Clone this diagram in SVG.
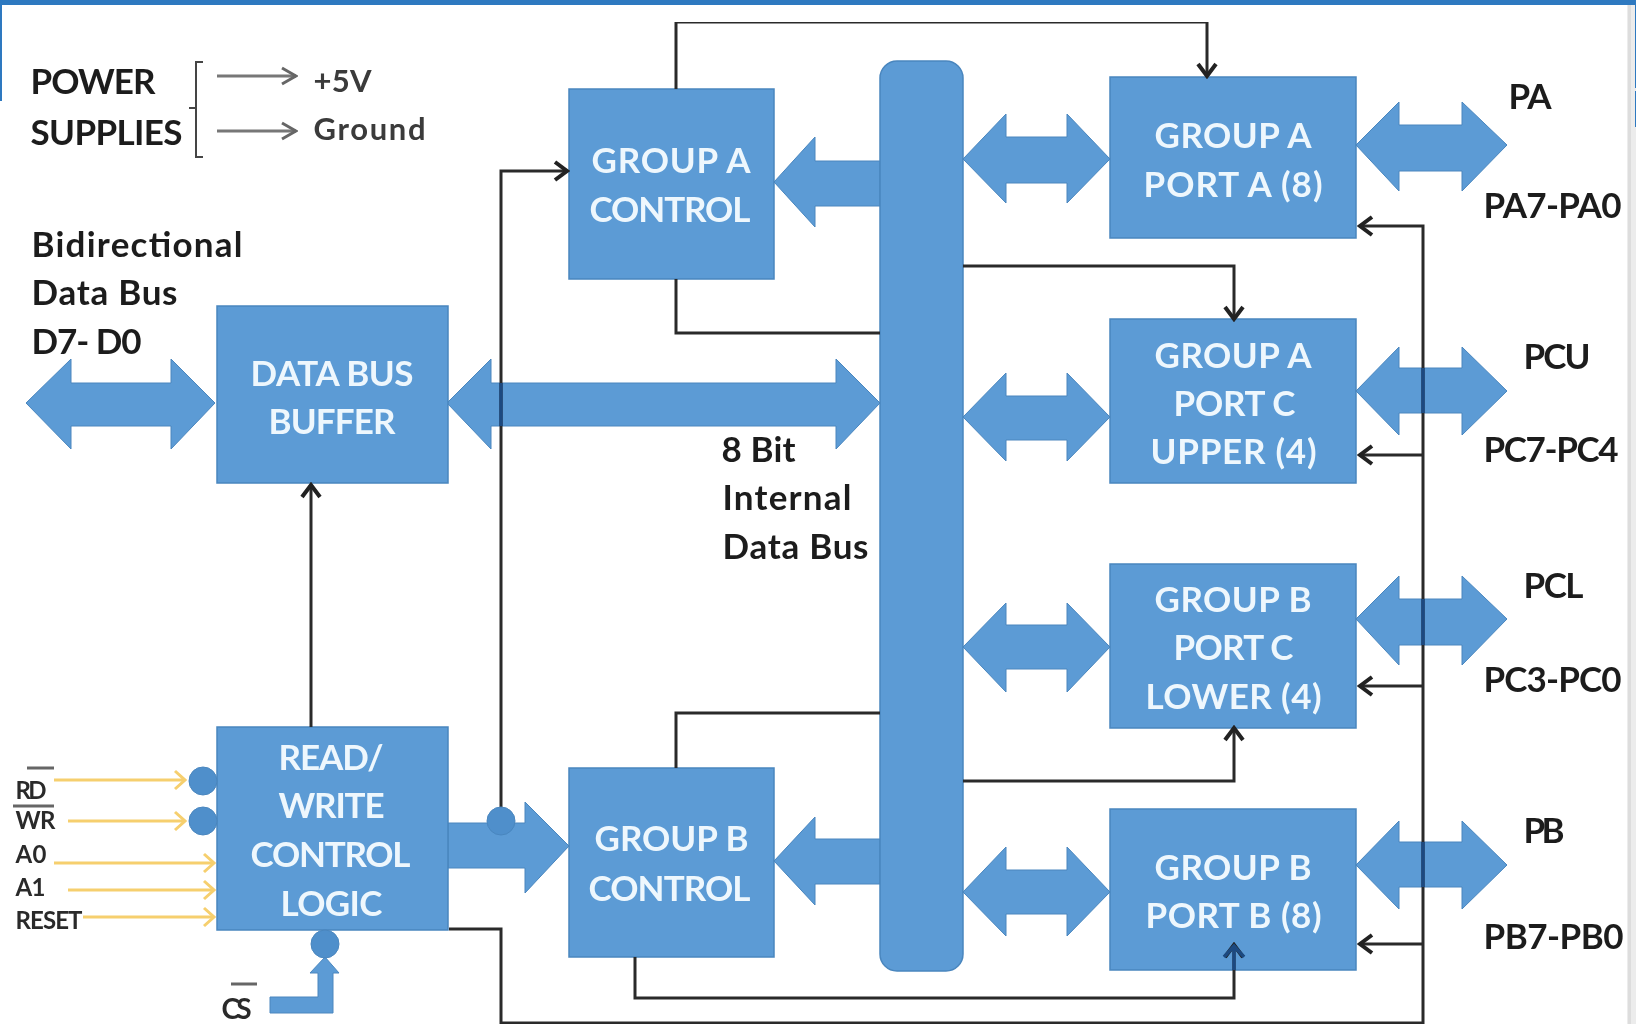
<svg xmlns="http://www.w3.org/2000/svg" width="1636" height="1024" viewBox="0 0 1636 1024">
<defs>
<style>
.box{fill:#5B9BD5;stroke:#4A86BE;stroke-width:1.5}
.arr{fill:#5B9BD5;stroke:#4A86BE;stroke-width:1}
.w{font-family:Lato,"Liberation Sans",sans-serif;font-weight:700;font-size:35px;fill:#EEF7FD}
.k{font-family:Lato,"Liberation Sans",sans-serif;font-weight:700;font-size:35px;fill:#1c1c1c}
.k2{font-family:Lato,"Liberation Sans",sans-serif;font-weight:700;font-size:31px;fill:#3a3a3a}
.s{font-family:Lato,"Liberation Sans",sans-serif;font-weight:700;font-size:24px;fill:#2b2b2b}
.w,.k,.k2,.s{transform:translate(-0.5px,0.5px)}
.c{fill:none;stroke:#2b2b2b;stroke-width:3}
.t{fill:none;stroke:#444;stroke-width:2}
.y{fill:none;stroke:#F6CF6E;stroke-width:3}
.o{fill:none;stroke:#777;stroke-width:3}
.n{fill:none;stroke:#1C4A80;stroke-width:3.5}
.dot{fill:#4F8FCB;stroke:#4A86BE;stroke-width:1}
</style>
<filter id="soft" x="0" y="0" width="100%" height="100%"><feGaussianBlur stdDeviation="0.7"/></filter>
<marker id="h" viewBox="0 0 20 24" refX="17" refY="12" markerWidth="20" markerHeight="24" markerUnits="userSpaceOnUse" orient="auto"><path d="M5 3L17 12L5 21" fill="none" stroke="#222" stroke-width="4"/></marker>
<marker id="g" viewBox="0 0 20 20" refX="18" refY="10" markerWidth="20" markerHeight="20" markerUnits="userSpaceOnUse" orient="auto"><path d="M4 2L18 10L4 18" fill="none" stroke="#666" stroke-width="3"/></marker>
<marker id="yh" viewBox="0 0 14 22" refX="12" refY="11" markerWidth="14" markerHeight="22" markerUnits="userSpaceOnUse" orient="auto"><path d="M2 2L12 11L2 20" fill="none" stroke="#F6CF6E" stroke-width="3"/></marker>
</defs>
<rect width="1636" height="1024" fill="#fff"/>
<rect x="1627" y="0" width="9" height="1024" fill="#ECECEC"/>
<rect x="1628" y="0" width="3" height="1024" fill="#DDDDDD"/>
<g id="page" filter="url(#soft)">
<g id="bus-arrows">
<polygon class="arr" points="26,403 71,359 71,383 171,383 171,359 215,403 171,449 171,426 71,426 71,449"/>
<polygon class="arr" points="447,403 491,359 491,383 836,383 836,359 880,403 836,449 836,426 491,426 491,449"/>
<polygon class="arr" points="774,182 815,137 815,161 880,161 880,206 815,206 815,227"/>
<polygon class="arr" points="774,861 815,817 815,839 880,839 880,884 815,884 815,905"/>
<polygon class="arr" points="448,823 525,823 525,802 569,846 525,893 525,868 448,868"/>
<polygon class="arr" points="270,997 318,997 318,973 310,973 325,957 339,973 333,973 333,1013 270,1013"/>
<polygon class="arr" points="963,159 1006,114 1006,137 1067,137 1067,114 1110,159 1067,203 1067,183 1006,183 1006,203"/>
<polygon class="arr" points="963,417 1006,373 1006,396 1067,396 1067,373 1110,417 1067,461 1067,440 1006,440 1006,461"/>
<polygon class="arr" points="963,647 1006,603 1006,625 1067,625 1067,603 1110,647 1067,692 1067,669 1006,669 1006,692"/>
<polygon class="arr" points="963,892 1006,847 1006,870 1067,870 1067,847 1110,892 1067,936 1067,914 1006,914 1006,936"/>
<polygon class="arr" points="1356,145 1399,102 1399,125 1462,125 1462,102 1507,145 1462,191 1462,171 1399,171 1399,191"/>
<polygon class="arr" points="1356,391 1399,347 1399,368 1462,368 1462,347 1507,391 1462,435 1462,413 1399,413 1399,435"/>
<polygon class="arr" points="1356,619 1399,576 1399,599 1462,599 1462,576 1507,619 1462,665 1462,645 1399,645 1399,665"/>
<polygon class="arr" points="1356,865 1399,821 1399,842 1462,842 1462,821 1507,865 1462,909 1462,887 1399,887 1399,909"/>
</g>

<g id="internal-bus"><rect class="box" x="880" y="61" width="83" height="910" rx="17"/></g>

<g id="data-bus-buffer"><rect class="box" x="217" y="306" width="231" height="177"/>
<text class="w" x="251" y="385" textLength="163">DATA BUS</text><text class="w" x="269" y="433" textLength="127">BUFFER</text></g>
<g id="read-write-control"><rect class="box" x="217" y="727" width="231" height="203"/>
<text class="w" x="279" y="769" textLength="105">READ/</text><text class="w" x="279" y="817" textLength="106">WRITE</text><text class="w" x="251" y="866" textLength="160">CONTROL</text><text class="w" x="281" y="915" textLength="102">LOGIC</text></g>
<g id="group-a-control"><rect class="box" x="569" y="89" width="205" height="190"/>
<text class="w" x="592" y="172" textLength="159">GROUP A</text><text class="w" x="590" y="221" textLength="161">CONTROL</text></g>
<g id="group-b-control"><rect class="box" x="569" y="768" width="205" height="189"/>
<text class="w" x="595" y="850" textLength="154">GROUP B</text><text class="w" x="589" y="900" textLength="162">CONTROL</text></g>
<g id="port-a"><rect class="box" x="1110" y="77" width="246" height="161"/>
<text class="w" x="1155" y="147" textLength="157">GROUP A</text><text class="w" x="1144" y="196" textLength="179">PORT A (8)</text></g>
<g id="port-c-upper"><rect class="box" x="1110" y="319" width="246" height="164"/>
<text class="w" x="1155" y="367" textLength="157">GROUP A</text><text class="w" x="1174" y="415" textLength="122">PORT C</text><text class="w" x="1151" y="463" textLength="166">UPPER (4)</text></g>
<g id="port-c-lower"><rect class="box" x="1110" y="564" width="246" height="164"/>
<text class="w" x="1155" y="611" textLength="157">GROUP B</text><text class="w" x="1174" y="659" textLength="120">PORT C</text><text class="w" x="1146" y="708" textLength="176">LOWER (4)</text></g>
<g id="port-b"><rect class="box" x="1110" y="809" width="246" height="161"/>
<text class="w" x="1155" y="879" textLength="157">GROUP B</text><text class="w" x="1146" y="927" textLength="176">PORT B (8)</text></g>

<g id="connectors">
<path class="c" marker-end="url(#h)" d="M676 89V22H1207V76"/>
<path class="c" d="M676 279V333H880"/>
<path class="c" marker-end="url(#h)" d="M963 266H1234V319"/>
<path class="c" marker-end="url(#h)" d="M963 781H1234V728"/>
<path class="c" d="M676 768V713H880"/>
<path class="c" marker-end="url(#h)" d="M635 957V998H1234V945"/>
<path class="c" marker-end="url(#h)" d="M311 727V485"/>
<path class="c" marker-end="url(#h)" d="M501 821V171H567"/>
<path class="c" marker-end="url(#h)" d="M449 929H501V1023H1423V226H1360"/>
<path class="c" marker-end="url(#h)" d="M1423 455H1360"/>
<path class="c" marker-end="url(#h)" d="M1423 686H1360"/>
<path class="c" marker-end="url(#h)" d="M1423 944H1360"/>
<path class="n" d="M501 383V426M1423 368V413M1423 599V645M1423 842V887M1234 970V947M1224 957L1234 946L1244 957"/>
<path class="t" d="M203 62H196V157H203M189 108H196"/>
<path class="o" marker-end="url(#g)" d="M217 76H296"/>
<path class="o" marker-end="url(#g)" d="M217 131H296"/>
<path class="y" marker-end="url(#yh)" d="M54 780H185"/>
<path class="y" marker-end="url(#yh)" d="M68 821H185"/>
<path class="y" marker-end="url(#yh)" d="M54 863H214"/>
<path class="y" marker-end="url(#yh)" d="M68 890H214"/>
<path class="y" marker-end="url(#yh)" d="M83 917H214"/>
<path d="M27 768H54M13 806H54M231 984H257" fill="none" stroke="#666" stroke-width="3"/>
</g>

<g id="bubbles">
<ellipse class="dot" cx="203" cy="781" rx="14" ry="14"/>
<ellipse class="dot" cx="203" cy="821" rx="14" ry="14"/>
<ellipse class="dot" cx="501" cy="821" rx="14" ry="14"/>
<ellipse class="dot" cx="325" cy="944" rx="14" ry="14"/>
</g>

<g id="labels">
<text class="k" x="31" y="93" textLength="125">POWER</text>
<text class="k" x="31" y="144" textLength="152">SUPPLIES</text>
<text class="k2" x="314" y="91" textLength="58">+5V</text>
<text class="k2" x="314" y="139" textLength="112">Ground</text>
<text class="k" x="32" y="256" textLength="211">Bidirectional</text>
<text class="k" x="32" y="304" textLength="146">Data Bus</text>
<text class="k" x="32" y="353" textLength="110">D7- D0</text>
<text class="k" x="722" y="461" textLength="74">8 Bit</text>
<text class="k" x="723" y="509" textLength="129">Internal</text>
<text class="k" x="723" y="558" textLength="146">Data Bus</text>
<text class="k" x="1509" y="108" textLength="43">PA</text>
<text class="k" x="1484" y="217" textLength="138">PA7-PA0</text>
<text class="k" x="1524" y="368" textLength="67">PCU</text>
<text class="k" x="1484" y="461" textLength="135">PC7-PC4</text>
<text class="k" x="1524" y="597" textLength="60">PCL</text>
<text class="k" x="1484" y="691" textLength="138">PC3-PC0</text>
<text class="k" x="1524" y="842" textLength="41">PB</text>
<text class="k" x="1484" y="948" textLength="140">PB7-PB0</text>
<text class="s" x="16" y="798" textLength="31">RD</text>
<text class="s" x="16" y="828" textLength="40">WR</text>
<text class="s" x="16" y="862" textLength="31">A0</text>
<text class="s" x="16" y="895" textLength="30">A1</text>
<text class="s" x="16" y="928" textLength="67">RESET</text>
<text class="k2" x="222" y="1018" textLength="30" style="font-size:28px;fill:#2b2b2b">CS</text>
</g>
</g>
<rect x="0" y="0" width="1636" height="5" fill="#2E79C0"/>
<rect x="0" y="0" width="2" height="101" fill="#2E79C0"/>
<rect x="1635" y="0" width="1" height="88" fill="#2E79C0"/>
<rect x="1635" y="91" width="1" height="36" fill="#2E79C0"/>
</svg>
